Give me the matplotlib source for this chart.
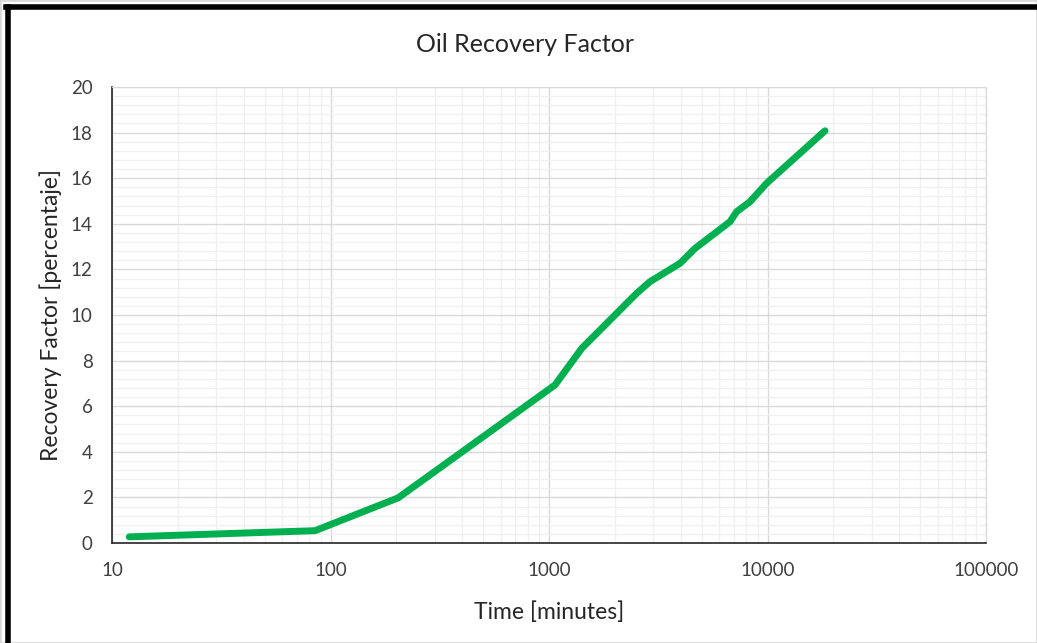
import numpy as np
import matplotlib
matplotlib.use('Agg')
import matplotlib.pyplot as plt
from matplotlib.patches import Rectangle
from matplotlib.ticker import LogLocator, MultipleLocator, FixedLocator, NullFormatter

plt.rcParams['font.family'] = ['Lato', 'DejaVu Sans']

# data
time_min = [12, 85, 204, 1065, 1413, 2518, 2897, 3981, 4656, 6730, 7226, 8318, 9910, 18330]
recovery = [0.27, 0.54, 1.98, 6.93, 8.54, 10.95, 11.46, 12.27, 12.92, 14.09, 14.53, 14.97, 15.78, 18.08]

x_ticks = [10, 100, 1000, 10000, 100000]
x_labels = ['10', '100', '1000', '10000', '100000']
y_ticks = list(range(0, 21, 2))

fig = plt.figure(figsize=(10.37, 6.43), dpi=100)
ax = fig.add_axes([112/1037, 100/643, 874/1037, 456/643])

ax.plot(time_min, recovery, color='#00b050', lw=5, solid_capstyle='round', solid_joinstyle='round', zorder=3)

ax.set_xscale('log')
ax.set_xlim(10, 100000)
ax.set_ylim(0, 20)
ax.xaxis.set_major_locator(FixedLocator(x_ticks))
ax.set_xticklabels(x_labels)
ax.xaxis.set_minor_locator(LogLocator(base=10, subs=np.arange(2, 10)))
ax.xaxis.set_minor_formatter(NullFormatter())
ax.set_yticks(y_ticks)
ax.yaxis.set_minor_locator(MultipleLocator(0.4))

ax.grid(which='major', color='#d9d9d9', lw=1)
ax.grid(which='minor', color='#f0f0f0', lw=1)
ax.set_axisbelow(True)
ax.tick_params(which='both', length=0, labelsize=13.5, colors='#404040')
ax.tick_params(axis='x', pad=14)
ax.tick_params(axis='y', pad=14)

for s in ['top', 'right']:
    ax.spines[s].set_color('#d9d9d9')
for s in ['left', 'bottom']:
    ax.spines[s].set_color('#262626')
    ax.spines[s].set_linewidth(1.2)

ax.set_xlabel('Time [minutes]', fontsize=16.5, color='#262626', labelpad=16)
ax.set_ylabel('Recovery Factor [percentaje]', fontsize=16.5, color='#262626', labelpad=6)
fig.text(525/1037, 1 - 45/643, 'Oil Recovery Factor', ha='center', va='center', fontsize=18, color='#262626')

# frame around the picture
fig.patches.append(Rectangle((0, 0), 1, 1, transform=fig.transFigure, fill=False, ec='#d9d9d9', lw=2))
fig.add_artist(plt.Line2D([7.5/1037, 7.5/1037], [0, 1 - 7/643], transform=fig.transFigure, color='black', lw=4))
fig.add_artist(plt.Line2D([5.5/1037, 1], [1 - 7/643, 1 - 7/643], transform=fig.transFigure, color='black', lw=4))

fig.savefig('out.png', dpi=100)
